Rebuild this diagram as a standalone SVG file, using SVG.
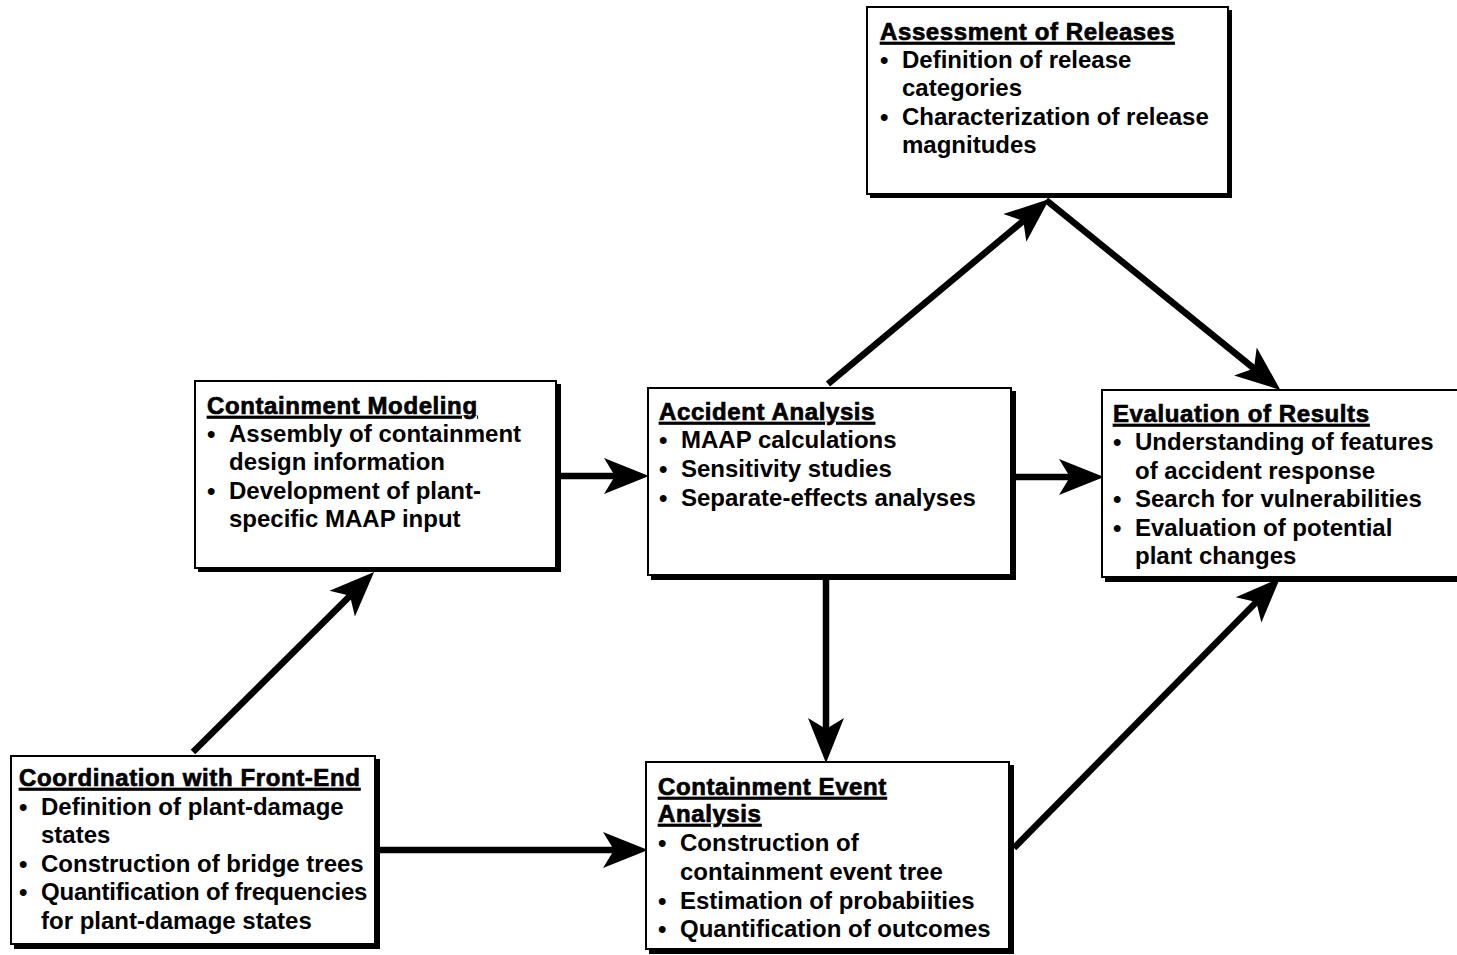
<svg xmlns="http://www.w3.org/2000/svg" width="1457" height="955" viewBox="0 0 1457 955">
  <defs>
    <style>
      .box { fill: #fff; stroke: #000; stroke-width: 2; }
      .shadow { fill: #000; }
      .title { font-family: "Liberation Sans", Arial, sans-serif; font-weight: bold; font-size: 24px; letter-spacing: 0.6px; text-decoration: underline; fill: #000; stroke: #000; stroke-width: 0.7; }
      .item { font-family: "Liberation Sans", Arial, sans-serif; font-weight: bold; font-size: 24px; fill: #000; }
      .conn { stroke: #000; stroke-width: 6.5; fill: none; marker-end: url(#arrow); }
    </style>
    <!-- barbed arrowhead; tip sits 22px beyond the end of the line -->
    <marker id="arrow" markerUnits="userSpaceOnUse" viewBox="0 -22 48 44" markerWidth="48" markerHeight="44" refX="22" refY="0" orient="auto">
      <path d="M0,-18 L45,0 L0,18 L11,0 Z" fill="#000"/>
    </marker>
  </defs>

  <rect width="1457" height="955" fill="#fff"/>

  <!-- connectors -->
  <g id="connectors">
    <line class="conn" x1="193" y1="752" x2="357.8" y2="588.1"/>
    <line class="conn" x1="558" y1="476" x2="626" y2="476"/>
    <line class="conn" x1="828" y1="384" x2="1031.7" y2="213.8"/>
    <line class="conn" x1="1046" y1="200" x2="1262.5" y2="375.4"/>
    <line class="conn" x1="1013" y1="477" x2="1081" y2="477"/>
    <line class="conn" x1="826" y1="579" x2="826" y2="740"/>
    <line class="conn" x1="377" y1="850" x2="625" y2="850"/>
    <line class="conn" x1="1014" y1="848" x2="1264" y2="594.2"/>
  </g>

  <!-- Assessment of Releases -->
  <g id="assessment">
    <rect class="shadow" x="870" y="10" width="362" height="188"/>
    <rect class="box" x="867" y="7" width="361" height="187"/>
    <text class="title" x="880" y="40">Assessment of Releases</text>
    <text class="item" x="880" y="68">•</text>
    <text class="item" x="902" y="68">Definition of release</text>
    <text class="item" x="902" y="96">categories</text>
    <text class="item" x="880" y="125">•</text>
    <text class="item" x="902" y="125">Characterization of release</text>
    <text class="item" x="902" y="153">magnitudes</text>
  </g>

  <!-- Containment Modeling -->
  <g id="containment-modeling">
    <rect class="shadow" x="198" y="384" width="363" height="188"/>
    <rect class="box" x="195" y="381" width="361" height="187"/>
    <text class="title" x="207" y="414">Containment Modeling</text>
    <text class="item" x="207" y="442">•</text>
    <text class="item" x="229" y="442">Assembly of containment</text>
    <text class="item" x="229" y="470">design information</text>
    <text class="item" x="207" y="499">•</text>
    <text class="item" x="229" y="499">Development of plant-</text>
    <text class="item" x="229" y="527">specific MAAP input</text>
  </g>

  <!-- Accident Analysis -->
  <g id="accident-analysis">
    <rect class="shadow" x="651" y="391" width="365" height="189"/>
    <rect class="box" x="648" y="388" width="363" height="187"/>
    <text class="title" x="659" y="420">Accident Analysis</text>
    <text class="item" x="659" y="448">•</text>
    <text class="item" x="681" y="448">MAAP calculations</text>
    <text class="item" x="659" y="477">•</text>
    <text class="item" x="681" y="477">Sensitivity studies</text>
    <text class="item" x="659" y="506">•</text>
    <text class="item" x="681" y="506">Separate-effects analyses</text>
  </g>

  <!-- Evaluation of Results -->
  <g id="evaluation">
    <rect class="shadow" x="1105" y="393" width="360" height="189"/>
    <rect class="box" x="1102" y="390" width="362" height="187"/>
    <text class="title" x="1113" y="422">Evaluation of Results</text>
    <text class="item" x="1113" y="450">•</text>
    <text class="item" x="1135" y="450">Understanding of features</text>
    <text class="item" x="1135" y="479">of accident response</text>
    <text class="item" x="1113" y="507">•</text>
    <text class="item" x="1135" y="507">Search for vulnerabilities</text>
    <text class="item" x="1113" y="536">•</text>
    <text class="item" x="1135" y="536">Evaluation of potential</text>
    <text class="item" x="1135" y="564">plant changes</text>
  </g>

  <!-- Coordination with Front-End -->
  <g id="coordination">
    <rect class="shadow" x="14" y="759" width="366" height="190"/>
    <rect class="box" x="11" y="756" width="364" height="188"/>
    <text class="title" x="19" y="786" letter-spacing="0.2">Coordination with Front-End</text>
    <text class="item" x="19" y="815">•</text>
    <text class="item" x="41" y="815">Definition of plant-damage</text>
    <text class="item" x="41" y="843">states</text>
    <text class="item" x="19" y="872">•</text>
    <text class="item" x="41" y="872">Construction of bridge trees</text>
    <text class="item" x="19" y="900">•</text>
    <text class="item" x="41" y="900" letter-spacing="-0.2">Quantification of frequencies</text>
    <text class="item" x="41" y="929">for plant-damage states</text>
  </g>

  <!-- Containment Event Analysis -->
  <g id="containment-event">
    <rect class="shadow" x="649" y="765" width="365" height="189"/>
    <rect class="box" x="646" y="762" width="363" height="187"/>
    <text class="title" x="658" y="795">Containment Event</text>
    <text class="title" x="658" y="822">Analysis</text>
    <text class="item" x="658" y="851">•</text>
    <text class="item" x="680" y="851">Construction of</text>
    <text class="item" x="680" y="880">containment event tree</text>
    <text class="item" x="658" y="909">•</text>
    <text class="item" x="680" y="909">Estimation of probabiities</text>
    <text class="item" x="658" y="937">•</text>
    <text class="item" x="680" y="937">Quantification of outcomes</text>
  </g>
</svg>
